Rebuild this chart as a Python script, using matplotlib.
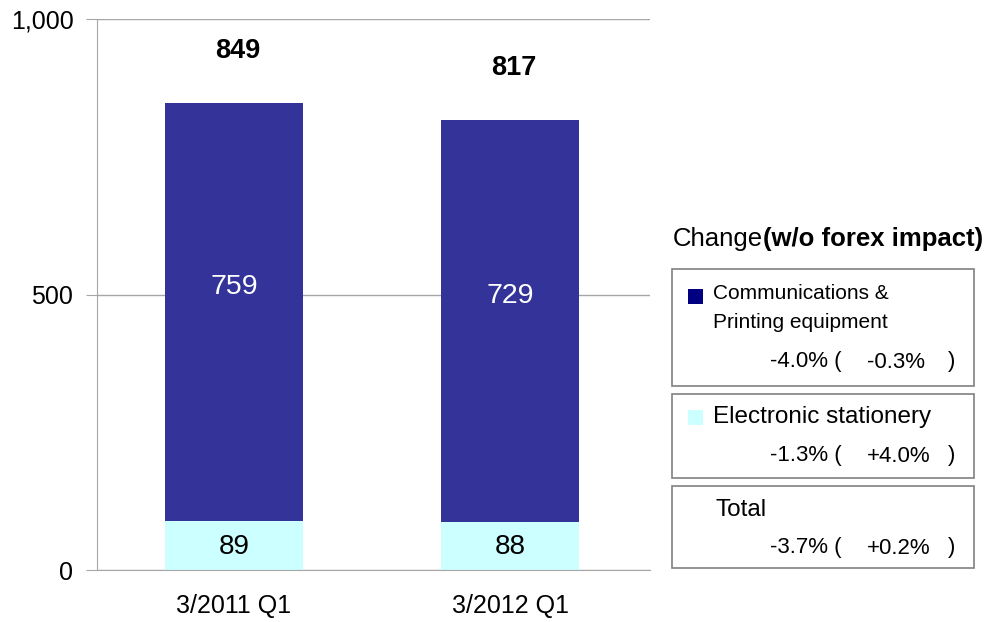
import matplotlib.pyplot as plt
from matplotlib.patches import Rectangle
from matplotlib.ticker import FuncFormatter

plt.rcParams['font.family'] = ['Liberation Sans', 'DejaVu Sans']

# quarterly sales by segment
periods = ["3/2011 Q1", "3/2012 Q1"]
electronic = [89, 88]
communications = [759, 729]
totals = [849, 817]

# year-on-year change, and change without forex impact
seg_names = ["Communications &\nPrinting equipment", "Electronic stationery", "Total"]
chg = ["-4.0%", "-1.3%", "-3.7%"]
chg_fx = ["-0.3%", "+4.0%", "+0.2%"]

DARK = "#333399"
LIGHT = "#CCFFFF"
GRID = "#A6A6A6"

W, H = 994, 622
fig = plt.figure(figsize=(W / 100, H / 100), dpi=100)
ax = fig.add_axes([97 / W, 1 - 570 / H, (650 - 97) / W, (570 - 19) / H])

x = range(len(periods))
ax.bar(x, electronic, width=0.5, color=LIGHT, zorder=2)
ax.bar(x, communications, width=0.5, bottom=electronic, color=DARK, zorder=2)

for i in x:
    ax.annotate(str(electronic[i]), (i, electronic[i] / 2), xytext=(0, -1),
                textcoords='offset points', ha='center', va='center',
                fontsize=20, color='black', zorder=3)
    ax.annotate(str(communications[i]), (i, electronic[i] + communications[i] / 2),
                xytext=(0, 18), textcoords='offset points', ha='center',
                va='center', fontsize=20.5, color='white', zorder=3)
    ax.annotate(str(totals[i]), (i, totals[i]), xytext=(3, 37),
                textcoords='offset points', ha='center', va='center',
                fontsize=19.5, fontweight='bold', color='black', zorder=3)

ax.set_xlim(-0.496, 1.507)
ax.set_ylim(0, 1000)
ax.set_yticks([0, 500, 1000])
ax.yaxis.set_major_formatter(FuncFormatter(lambda v, p: f"{int(v):,}"))
ax.set_xticks(list(x))
ax.set_xticklabels(periods)
ax.tick_params(axis='y', length=8, color=GRID, labelsize=18, pad=9)
ax.tick_params(axis='x', length=0, labelsize=18, pad=17)
ax.grid(axis='y', color=GRID, linewidth=1, zorder=0)
for s in ['top', 'right']:
    ax.spines[s].set_visible(False)
for s in ['left', 'bottom']:
    ax.spines[s].set_color(GRID)


def px(xp, yp):
    return xp / W, 1 - yp / H


# change panel on the right
fig.text(*px(673, 239), "Change", fontsize=18.5, va='center', ha='left')
fig.text(*px(763, 239), "(w/o forex impact)", fontsize=18.5, fontweight='bold',
         va='center', ha='left')

boxes = [(269, 386), (394, 478), (486, 568)]
name_y = [308, 417, 510]
value_y = [362, 456, 548]
markers = ["#000080", LIGHT, None]
for k, (top, bot) in enumerate(boxes):
    fig.patches.append(Rectangle(px(672, bot), 302 / W, (bot - top) / H,
                                 transform=fig.transFigure, fill=False,
                                 edgecolor='#808080', linewidth=1.2))
    if markers[k]:
        my = 297 if k == 0 else 417
        fig.patches.append(Rectangle(px(688, my + 7.5), 15 / W, 15 / H,
                                     transform=fig.transFigure,
                                     facecolor=markers[k], edgecolor='none'))
    if k == 0:
        fig.text(*px(713, 294), "Communications &", fontsize=15, va='center')
        fig.text(*px(713, 323), "Printing equipment", fontsize=15, va='center')
    else:
        fig.text(*px(713 if k == 1 else 715, name_y[k]), seg_names[k],
                 fontsize=17.5, va='center')
    fig.text(*px(770, value_y[k]), chg[k] + " (", fontsize=16, va='center')
    fig.text(*px(867, value_y[k]), chg_fx[k], fontsize=16, va='center')
    fig.text(*px(948, value_y[k]), ")", fontsize=16, va='center')

fig.savefig("out.png", dpi=100)
